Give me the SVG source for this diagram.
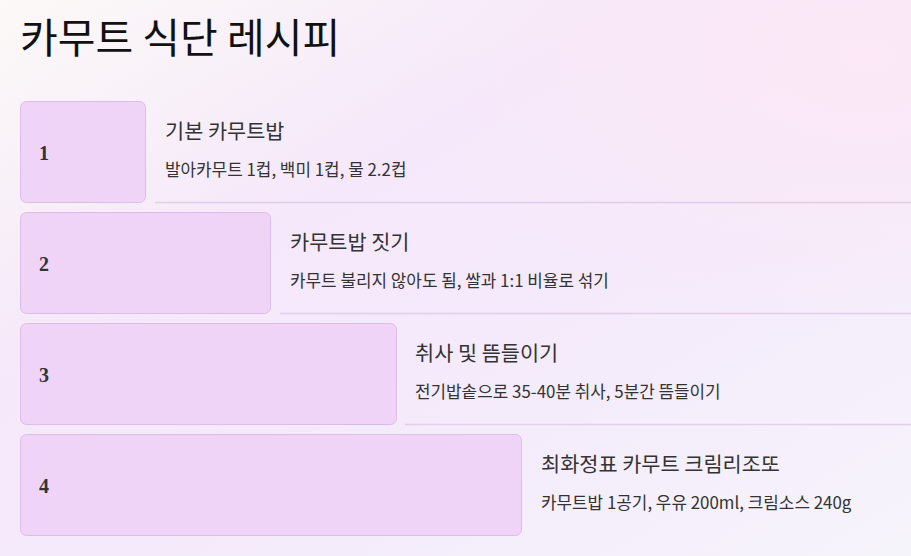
<svg xmlns="http://www.w3.org/2000/svg" width="911" height="556" viewBox="0 0 911 556">
<defs>
<linearGradient id="bg" x1="0" y1="0" x2="1" y2="1">
<stop offset="0" stop-color="#fcf9f7"/>
<stop offset="0.35" stop-color="#f5e8fa"/>
<stop offset="0.65" stop-color="#f4ebfb"/>
<stop offset="1" stop-color="#f6f4fb"/>
</linearGradient>
<radialGradient id="glow" cx="0.95" cy="0.1" r="0.5">
<stop offset="0" stop-color="#fde8f6" stop-opacity="0.9"/>
<stop offset="1" stop-color="#fde8f6" stop-opacity="0"/>
</radialGradient>
<style>
.box{fill:#efd4f7;stroke:#dcbde8;stroke-width:1}
.num{font-family:"Liberation Serif",serif;font-weight:bold;font-size:20px;fill:#333}
.ttl{font-family:"Noto Sans CJK KR","Noto Sans",sans-serif;font-size:20.8px;fill:#333}
.sub{font-family:"Noto Sans CJK KR","Noto Sans",sans-serif;font-size:16.9px;fill:#333}
.sep{stroke:#e3cdea;stroke-width:1.5}
.head{font-family:"Noto Sans CJK KR","Noto Sans",sans-serif;font-size:41px;fill:#111}
</style>
</defs>
<rect width="911" height="556" fill="url(#bg)"/>
<rect width="911" height="556" fill="url(#glow)"/>
<text class="head" x="20" y="53">카무트 식단 레시피</text>
<g id="connectors">
<line class="sep" x1="155" y1="202.5" x2="911" y2="202.5"/>
<line class="sep" x1="280" y1="313.5" x2="911" y2="313.5"/>
<line class="sep" x1="405" y1="424.5" x2="911" y2="424.5"/>
</g>
<g id="step1">
<rect class="box" x="20.5" y="101.5" width="125" height="101" rx="6"/>
<text class="num" x="39" y="160">1</text>
<text class="ttl" x="165" y="139">기본 카무트밥</text>
<text class="sub" x="165" y="176">발아카무트 1컵, 백미 1컵, 물 2.2컵</text>
</g>
<g id="step2">
<rect class="box" x="20.5" y="212.5" width="250" height="101" rx="6"/>
<text class="num" x="39" y="271">2</text>
<text class="ttl" x="290" y="250">카무트밥 짓기</text>
<text class="sub" x="290" y="287">카무트 불리지 않아도 됨, 쌀과 1:1 비율로 섞기</text>
</g>
<g id="step3">
<rect class="box" x="20.5" y="323.5" width="376" height="101" rx="6"/>
<text class="num" x="39" y="382">3</text>
<text class="ttl" x="415" y="361">취사 및 뜸들이기</text>
<text class="sub" x="415" y="398">전기밥솥으로 35-40분 취사, 5분간 뜸들이기</text>
</g>
<g id="step4">
<rect class="box" x="20.5" y="434.5" width="501" height="101" rx="6"/>
<text class="num" x="39" y="493">4</text>
<text class="ttl" x="541" y="472">최화정표 카무트 크림리조또</text>
<text class="sub" x="541" y="509">카무트밥 1공기, 우유 200ml, 크림소스 240g</text>
</g>
</svg>
